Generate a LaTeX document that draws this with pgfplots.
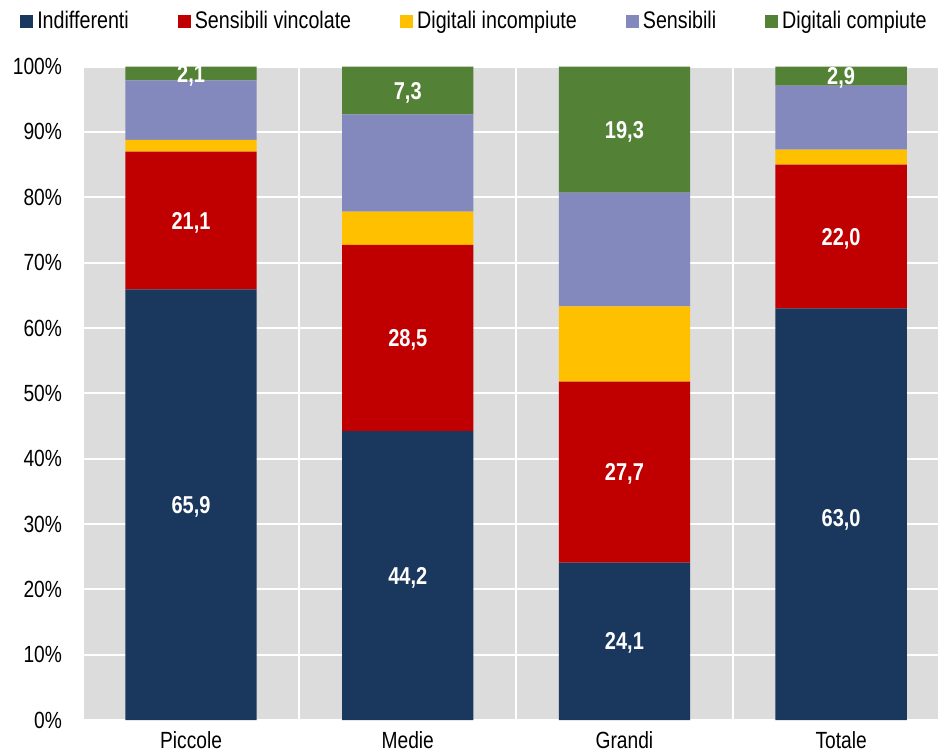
\documentclass[border=0pt]{standalone}
\usepackage{pgfplots}
\usepackage{pgfplotstable}
\pgfplotsset{compat=1.18}
\usepackage{fontspec}
\setmainfont{Liberation Sans}[FakeStretch=0.82]
\definecolor{cInd}{HTML}{1A375E}
\definecolor{cSV}{HTML}{C00000}
\definecolor{cDI}{HTML}{FFC000}
\definecolor{cS}{HTML}{8489BD}
\definecolor{cDC}{HTML}{538135}
\definecolor{bg}{HTML}{DCDCDC}

\pgfplotstableread{
x ind sv di s dc
0 65.9 21.1 1.8 9.1 2.1
1 44.2 28.5 5.1 14.9 7.3
2 24.1 27.7 11.5 17.4 19.3
3 63.0 22.0 2.3 9.8 2.9
}\data

\pgfplotstableread{
x y lab
0 32.95 65,9
0 76.45 21,1
0 98.95 2,1
1 22.10 44,2
1 58.45 28,5
1 96.35 7,3
2 12.05 24,1
2 37.95 27,7
2 90.35 19,3
3 30.90 63,0
3 74.00 22,0
3 98.55 2,9
}\labels

\pgfplotsset{legsq/.style={legend image code/.code={\fill[##1] (0pt,-3.25pt) rectangle (6.5pt,3.25pt);}}}

\begin{document}
\begin{tikzpicture}
\begin{axis}[name=ax,
  scale only axis, width=427pt, height=326.7pt,
  ybar stacked, bar width=0.606,
  xmin=-0.494, xmax=3.447, ymin=0, ymax=100,
  axis background/.style={fill=bg},
  axis line style={draw=none},
  major tick length=0pt, minor tick length=0pt,
  xtick={0,1,2,3}, xticklabels={Piccole,Medie,Grandi,Totale},
  minor xtick={0.5,1.5,2.5}, xminorgrids=true,
  ytick={0,10,...,100}, ymajorgrids=true,
  grid style={white, line width=1pt},
  minor grid style={white, line width=1pt},
  /pgf/number format/assume math mode=true,
  yticklabel={\pgfmathprintnumber{\tick}\%},
  tick label style={font=\fontsize{11.7}{13}\selectfont},
  yticklabel shift=7.5pt,
  xticklabel shift=2pt,
  legend columns=5,
  legend style={draw=none, fill=none, at={(1,1)}, anchor=east, yshift=22.5pt, xshift=-3.5pt,
    font=\fontsize{12}{14}\selectfont, inner sep=0pt,
    /tikz/every even column/.append style={column sep=22.5pt}},
]
\addplot[fill=cInd, draw=none, legsq] table[x=x,y=ind]{\data};
\addlegendentry{Indifferenti}
\addplot[fill=cSV, draw=none, legsq] table[x=x,y=sv]{\data};
\addlegendentry{Sensibili vincolate}
\addplot[fill=cDI, draw=none, legsq] table[x=x,y=di]{\data};
\addlegendentry{Digitali incompiute}
\addplot[fill=cS, draw=none, legsq] table[x=x,y=s]{\data};
\addlegendentry{Sensibili}
\addplot[fill=cDC, draw=none, legsq] table[x=x,y=dc]{\data};
\addlegendentry{Digitali compiute}
\end{axis}
\begin{axis}[
  scale only axis, width=427pt, height=326.7pt,
  xmin=-0.494, xmax=3.447, ymin=0, ymax=100,
  hide axis, at={(ax.south west)}, anchor=south west]
\addplot[draw=none, mark=none, nodes near coords, point meta=explicit symbolic,
  nodes near coords align=center,
  every node near coord/.style={font=\bfseries\fontsize{12.2}{14}\selectfont, text=white, anchor=center, yshift=-1pt}]
  table[x=x,y=y,meta=lab]{\labels};
\end{axis}
\pgfresetboundingbox
\path[use as bounding box] (ax.south west) ++(-42pt,-16pt) rectangle ([yshift=33.3pt]ax.north east);
\end{tikzpicture}
\end{document}
